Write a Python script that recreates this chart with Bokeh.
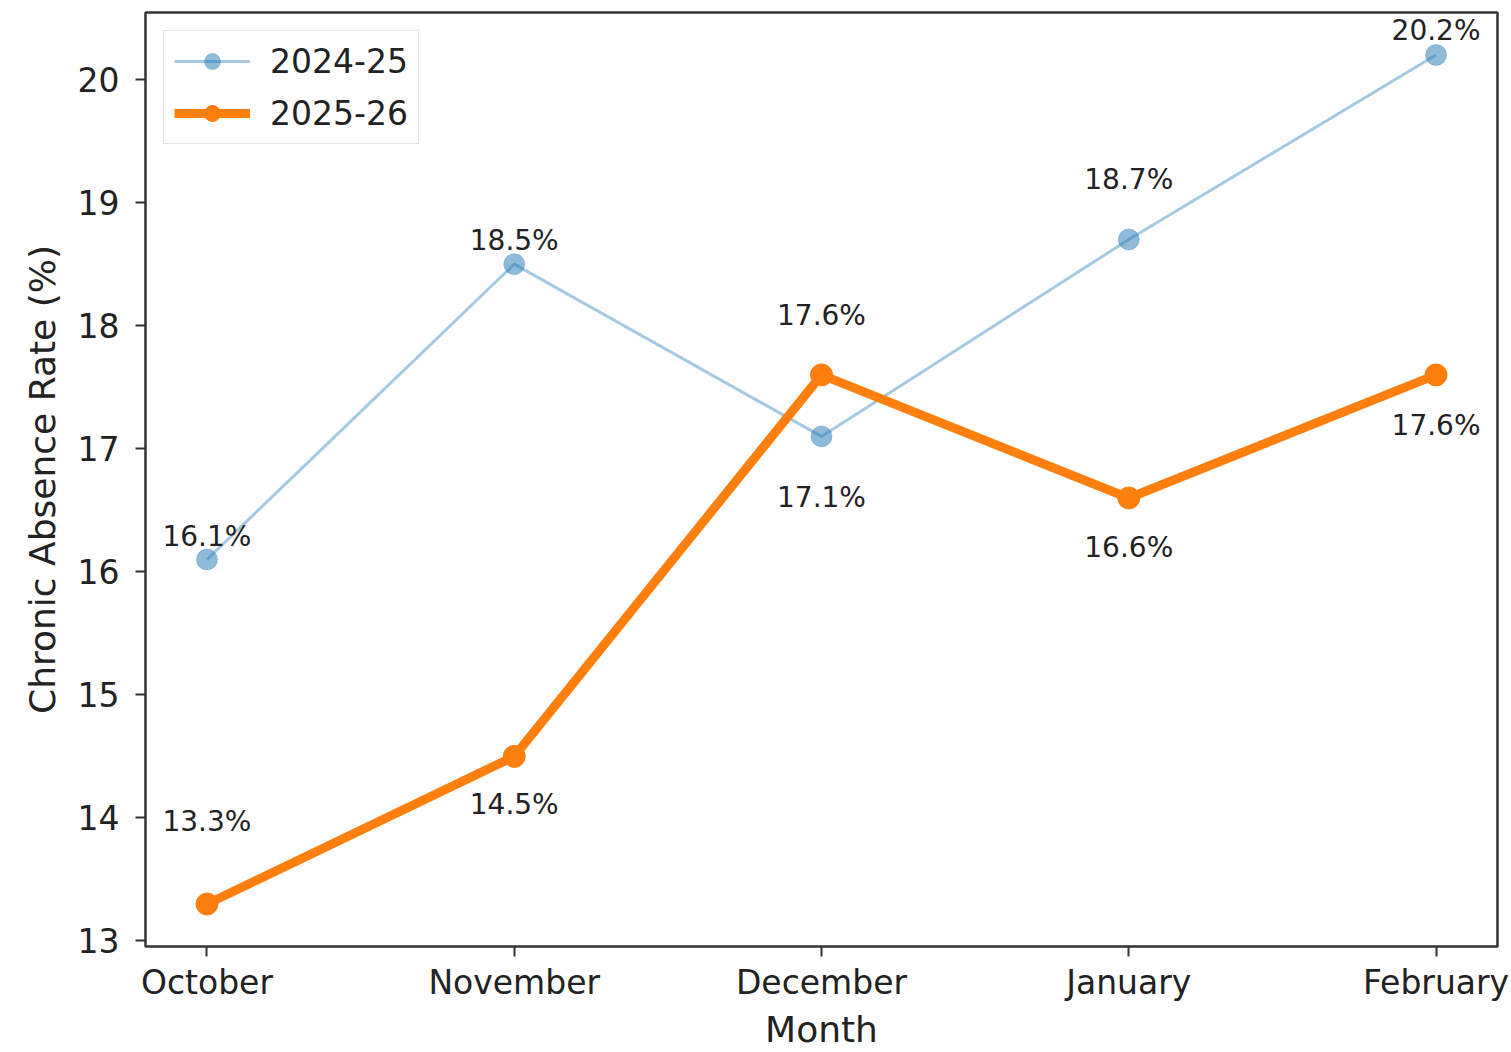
from bokeh.plotting import figure
from bokeh.models import ColumnDataSource, FixedTicker, Range1d, Legend, LegendItem
from bokeh.embed import file_html
from bokeh.resources import INLINE
from bokeh.core.properties import value

months = ["October", "November", "December", "January", "February"]
rate_2024_25 = [16.1, 18.5, 17.1, 18.7, 20.2]
rate_2025_26 = [13.3, 14.5, 17.6, 16.6, 17.6]
series_names = ["2024-25", "2025-26"]
y_ticks = [13, 14, 15, 16, 17, 18, 19, 20]

# label offsets in screen px (negative = above the point)
offsets_a = [-23, -24, 61, -60, -24]
offsets_b = [-83, 48, -59, 50, 51]

FONT = "DejaVu Sans"
TXT = "#222222"
BLUE = "#1f77b4"
ORANGE = "#ff7f0e"

xs = list(range(len(months)))
allv = rate_2024_25 + rate_2025_26
lo, hi = min(allv), max(allv)
pad = 0.05 * (hi - lo)
xpad = 0.05 * (len(months) - 1)

p = figure(width=1509, height=1052, output_backend="svg", toolbar_location=None,
           x_range=Range1d(-xpad, len(months) - 1 + xpad),
           y_range=Range1d(lo - pad, hi + pad),
           min_border_left=145, min_border_top=12, min_border_right=12, min_border_bottom=100)
p.background_fill_color = "white"
p.border_fill_color = "white"
p.xgrid.visible = False
p.ygrid.visible = False
p.outline_line_color = "#333333"
p.outline_line_width = 2.5

src_a = ColumnDataSource(dict(x=xs, y=rate_2024_25,
                              lab=[f"{v:.1f}%" for v in rate_2024_25], off=offsets_a))
src_b = ColumnDataSource(dict(x=xs, y=rate_2025_26,
                              lab=[f"{v:.1f}%" for v in rate_2025_26], off=offsets_b))

la = p.line("x", "y", source=src_a, line_color=BLUE, line_alpha=0.4, line_width=3)
sa = p.scatter("x", "y", source=src_a, size=21, fill_color=BLUE, fill_alpha=0.5,
               line_color=BLUE, line_alpha=0.3)
lb = p.line("x", "y", source=src_b, line_color=ORANGE, line_width=9, line_join="round")
sb = p.scatter("x", "y", source=src_b, size=22, fill_color=ORANGE, line_color=ORANGE)

for src in (src_a, src_b):
    p.text("x", "y", text="lab", source=src, y_offset="off",
           text_align="center", text_baseline="middle",
           text_font=value(FONT), text_font_size="28px", text_color=TXT)

legend = Legend(items=[LegendItem(label=series_names[0], renderers=[la, sa]),
                       LegendItem(label=series_names[1], renderers=[lb, sb])],
                location="top_left")
legend.label_text_font = FONT
legend.label_text_font_size = "33px"
legend.label_text_color = TXT
legend.glyph_width = 76
legend.glyph_height = 40
legend.spacing = 12
legend.label_standoff = 20
legend.padding = 10
legend.margin = 18
legend.border_line_color = "#cccccc"
legend.border_line_width = 1.5
legend.background_fill_alpha = 0.8
p.add_layout(legend)

p.xaxis.ticker = FixedTicker(ticks=xs)
p.xaxis.major_label_overrides = {i: m for i, m in enumerate(months)}
p.yaxis.ticker = FixedTicker(ticks=y_ticks)
p.xaxis.axis_label = "Month"
p.yaxis.axis_label = "Chronic Absence Rate (%)"

for ax in (p.xaxis, p.yaxis):
    ax.axis_line_color = None
    ax.major_tick_line_color = "#333333"
    ax.major_tick_line_width = 2
    ax.major_tick_out = 10
    ax.major_tick_in = 0
    ax.minor_tick_line_color = None
    ax.major_label_text_font = FONT
    ax.major_label_text_font_size = "33px"
    ax.major_label_text_color = TXT
    ax.axis_label_text_font = FONT
    ax.axis_label_text_font_size = "36px"
    ax.axis_label_text_font_style = "normal"
    ax.axis_label_text_color = TXT
p.xaxis.major_label_standoff = 6
p.yaxis.major_label_standoff = 16
p.xaxis.axis_label_standoff = 4
p.yaxis.axis_label_standoff = 12

open("out.html", "w").write(file_html(p, INLINE))
